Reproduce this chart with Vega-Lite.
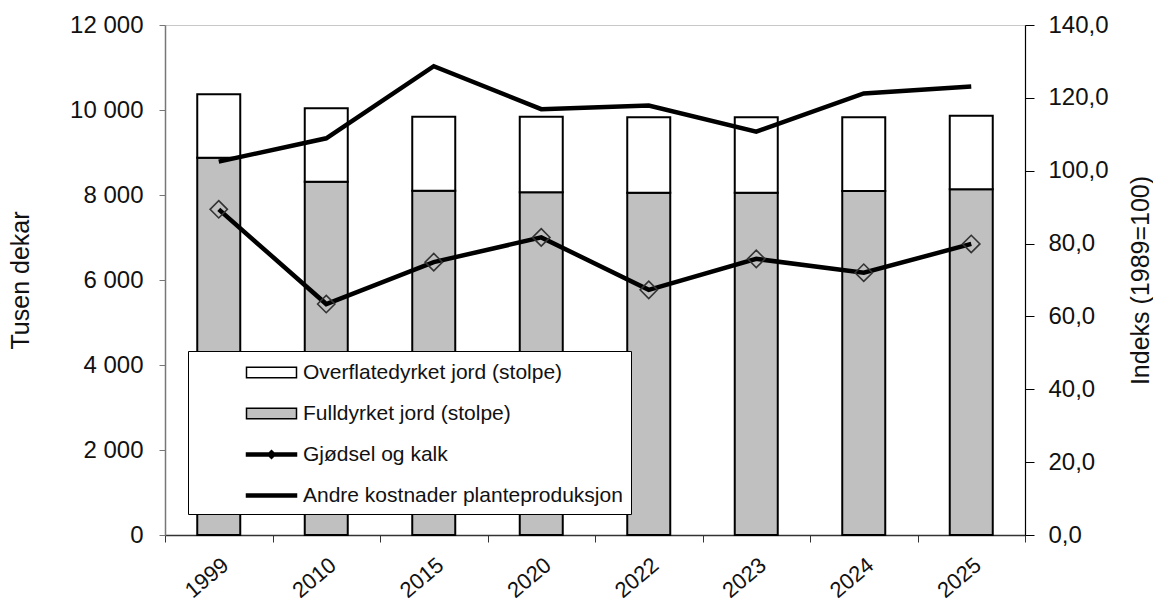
{
  "$schema": "https://vega.github.io/schema/vega-lite/v6.json",
  "width": 860,
  "height": 510,
  "autosize": {"type": "none"},
  "padding": {"left": 165, "top": 25, "right": 128, "bottom": 67},
  "background": "white",
  "datasets": {
    "bars": [
      {"year": "1999", "serie": "Fulldyrket jord (stolpe)", "value": 8878},
      {"year": "1999", "serie": "Overflatedyrket jord (stolpe)", "value": 1491},
      {"year": "2010", "serie": "Fulldyrket jord (stolpe)", "value": 8313},
      {"year": "2010", "serie": "Overflatedyrket jord (stolpe)", "value": 1727},
      {"year": "2015", "serie": "Fulldyrket jord (stolpe)", "value": 8101},
      {"year": "2015", "serie": "Overflatedyrket jord (stolpe)", "value": 1742},
      {"year": "2020", "serie": "Fulldyrket jord (stolpe)", "value": 8064},
      {"year": "2020", "serie": "Overflatedyrket jord (stolpe)", "value": 1779},
      {"year": "2022", "serie": "Fulldyrket jord (stolpe)", "value": 8054},
      {"year": "2022", "serie": "Overflatedyrket jord (stolpe)", "value": 1774},
      {"year": "2023", "serie": "Fulldyrket jord (stolpe)", "value": 8054},
      {"year": "2023", "serie": "Overflatedyrket jord (stolpe)", "value": 1774},
      {"year": "2024", "serie": "Fulldyrket jord (stolpe)", "value": 8094},
      {"year": "2024", "serie": "Overflatedyrket jord (stolpe)", "value": 1734},
      {"year": "2025", "serie": "Fulldyrket jord (stolpe)", "value": 8134},
      {"year": "2025", "serie": "Overflatedyrket jord (stolpe)", "value": 1732}
    ],
    "lines": [
      {"year": "1999", "serie": "Gjødsel og kalk", "value": 89.4},
      {"year": "2010", "serie": "Gjødsel og kalk", "value": 63.4},
      {"year": "2015", "serie": "Gjødsel og kalk", "value": 74.9},
      {"year": "2020", "serie": "Gjødsel og kalk", "value": 81.7},
      {"year": "2022", "serie": "Gjødsel og kalk", "value": 67.3},
      {"year": "2023", "serie": "Gjødsel og kalk", "value": 75.8},
      {"year": "2024", "serie": "Gjødsel og kalk", "value": 72.0},
      {"year": "2025", "serie": "Gjødsel og kalk", "value": 79.9},
      {"year": "1999", "serie": "Andre kostnader planteproduksjon", "value": 102.5},
      {"year": "2010", "serie": "Andre kostnader planteproduksjon", "value": 108.9},
      {"year": "2015", "serie": "Andre kostnader planteproduksjon", "value": 128.7},
      {"year": "2020", "serie": "Andre kostnader planteproduksjon", "value": 116.9},
      {"year": "2022", "serie": "Andre kostnader planteproduksjon", "value": 117.9},
      {"year": "2023", "serie": "Andre kostnader planteproduksjon", "value": 110.7},
      {"year": "2024", "serie": "Andre kostnader planteproduksjon", "value": 121.2},
      {"year": "2025", "serie": "Andre kostnader planteproduksjon", "value": 123.1}
    ]
  },
  "encoding": {
    "x": {
      "field": "year",
      "type": "ordinal",
      "scale": {"paddingInner": 0, "paddingOuter": 0},
      "axis": {
        "title": null,
        "labelAngle": -40,
        "labelAlign": "right",
        "labelBaseline": "top",
        "labelPadding": 12,
        "labelFontSize": 22,
        "tickBand": "extent",
        "tickSize": 7,
        "tickColor": "#333",
        "domainColor": "#333",
        "domainWidth": 1.5
      }
    }
  },
  "layer": [
    {
      "data": {"name": "bars"},
      "mark": {"type": "bar", "stroke": "black", "strokeWidth": 2, "width": {"band": 0.4}},
      "encoding": {
        "y": {
          "field": "value",
          "type": "quantitative",
          "stack": "zero",
          "scale": {"domain": [0, 12000], "nice": false},
          "axis": {
            "title": "Tusen dekar",
            "format": ",.0f",
            "values": [0, 2000, 4000, 6000, 8000, 10000, 12000],
            "tickSize": 6,
            "tickColor": "#777",
            "domainColor": "#777",
            "domainWidth": 1.5,
            "labelPadding": 16,
            "titleX": -157,
            "titleBaseline": "top",
            "titleAngle": -90
          }
        },
        "order": {"field": "serie", "type": "ordinal", "sort": "ascending"},
        "fill": {
          "field": "serie",
          "type": "nominal",
          "scale": {
            "domain": ["Fulldyrket jord (stolpe)", "Overflatedyrket jord (stolpe)"],
            "range": ["#c0c0c0", "white"]
          },
          "legend": null
        }
      }
    },
    {
      "data": {"name": "lines"},
      "encoding": {
        "y": {
          "field": "value",
          "type": "quantitative",
          "scale": {"domain": [0, 140], "nice": false},
          "axis": {
            "orient": "right",
            "title": "Indeks (1989=100)",
            "format": ".1f",
            "values": [0, 20, 40, 60, 80, 100, 120, 140],
            "tickSize": 9,
            "tickColor": "black",
            "domainColor": "black",
            "domainWidth": 1.2,
            "labelPadding": 14,
            "titleAngle": -90,
            "titleX": 103,
            "titleBaseline": "top"
          }
        }
      },
      "layer": [
        {
          "mark": {"type": "line", "strokeWidth": 4.5, "strokeJoin": "miter", "stroke": "black"},
          "encoding": {
            "detail": {"field": "serie", "type": "nominal"}
          }
        },
        {
          "transform": [{"filter": "datum.serie == 'Gjødsel og kalk'"}],
          "mark": {"type": "point", "shape": "diamond", "size": 300, "filled": false, "stroke": "#333", "strokeWidth": 1.6, "opacity": 1}
        },
        {
          "mark": {"type": "point", "size": 0, "filled": true, "stroke": "black", "strokeWidth": 1.5, "opacity": 1},
          "encoding": {
            "color": {
              "field": "serie",
              "type": "nominal",
              "scale": {
                "domain": ["Overflatedyrket jord (stolpe)", "Fulldyrket jord (stolpe)", "Gjødsel og kalk", "Andre kostnader planteproduksjon"],
                "range": ["white", "#c0c0c0", "black", "black"]
              },
              "legend": {
                "orient": "none",
                "legendX": 23,
                "legendY": 326,
                "title": null,
                "direction": "vertical",
                "fillColor": "white",
                "strokeColor": "black",
                "padding": 8,
                "rowPadding": 17,
                "symbolSize": 625,
                "symbolOffset": 62,
                "labelOffset": 18,
                "labelFont": "Liberation Sans",
                "labelFontSize": 21,
                "labelColor": "#111",
                "labelLimit": 800
              }
            },
            "shape": {
              "field": "serie",
              "type": "nominal",
              "scale": {
                "domain": ["Overflatedyrket jord (stolpe)", "Fulldyrket jord (stolpe)", "Gjødsel og kalk", "Andre kostnader planteproduksjon"],
                "range": ["M-2,-0.42H2V0.42H-2Z", "M-2,-0.42H2V0.42H-2Z", "M-2,-0.12H2V0.12H-2ZM0,-0.32L0.32,0L0,0.32L-0.32,0Z", "M-2,-0.12H2V0.12H-2Z"]
              },
              "legend": {
                "orient": "none",
                "legendX": 23,
                "legendY": 326,
                "title": null,
                "direction": "vertical",
                "fillColor": "white",
                "strokeColor": "black",
                "padding": 8,
                "rowPadding": 17,
                "symbolSize": 625,
                "symbolOffset": 62,
                "labelOffset": 18,
                "labelFont": "Liberation Sans",
                "labelFontSize": 21,
                "labelColor": "#111",
                "labelLimit": 800
              }
            }
          }
        }
      ]
    }
  ],
  "resolve": {"scale": {"y": "independent"}},
  "config": {
    "locale": {"number": {"decimal": ",", "thousands": " ", "grouping": [3], "currency": ["", " kr"]}},
    "font": "Liberation Sans",
    "view": {"stroke": "#c8c8c8", "strokeWidth": 1},
    "axis": {
      "grid": false,
      "labelFont": "Liberation Sans",
      "titleFont": "Liberation Sans",
      "labelFontSize": 24,
      "titleFontSize": 25,
      "titleFontWeight": "normal",
      "labelColor": "#111",
      "titleColor": "#111"
    }
  }
}
